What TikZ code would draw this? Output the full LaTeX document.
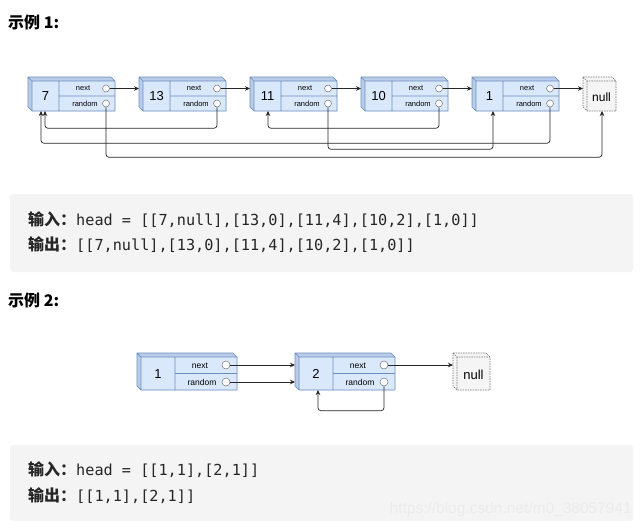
\documentclass[tikz,border=0pt]{standalone}
\usepackage{fontspec}
\setmainfont{Liberation Sans}
\setmonofont{DejaVu Sans Mono}
\newfontfamily\cjk{Noto Sans CJK SC}
\usetikzlibrary{arrows.meta,positioning}
\definecolor{cellfill}{HTML}{DAE8FC}
\definecolor{cellline}{HTML}{6C8EBF}
\definecolor{cellside}{HTML}{B9CCE8}
\definecolor{nullfill}{HTML}{F5F5F5}
\definecolor{nullline}{HTML}{777777}
\definecolor{codebg}{HTML}{F4F4F4}

\tikzset{
  cubeline/.style={draw=cellline, line width=0.7pt, line join=round},
  nullline/.style={draw=nullline, line width=0.6pt, dashed, dash pattern=on 1.5pt off 1pt},
  port/.style={circle, draw=black!55, fill=white, line width=0.5pt, minimum size=7pt, inner sep=0pt},
  cellbox/.style={inner sep=0pt, outer sep=0pt, anchor=north west},
  lbl/.style={font=\fontsize{7.5}{8}\selectfont, inner sep=0pt},
  val/.style={font=\fontsize{13}{14}\selectfont, inner sep=0pt},
  link/.style={draw=black!85, line width=0.7pt, rounded corners=3pt, -{Stealth[length=5pt,width=4.5pt]}},
  heading/.style={font=\cjk\bfseries\fontsize{16}{18}\selectfont, anchor=west, inner sep=0pt},
  codebox/.style={fill=codebg, rounded corners=3pt, anchor=north west, inner sep=0pt, outer sep=0pt},
  code/.style={font=\ttfamily\fontsize{15.2}{17}\selectfont, text=black!85, anchor=west, inner sep=0pt},
  wmark/.style={font=\fontsize{15.5}{17}\selectfont, text=black!8, anchor=east, inner sep=0pt}
}
\newcommand\cjkhead[1]{{\cjk\bfseries\fontsize{16}{18}\selectfont #1}}

\begin{document}
\begin{tikzpicture}[x=1pt,y=-1pt]
\useasboundingbox (0,0) rectangle (642,528);
\fill[white] (0,0) rectangle (642,528);

% Example 1
\node[heading] (h1) at (8,22) {示例 1:};

% list cells
\foreach \v [count=\i from 0] in {7,13,11,10,1} {
  \begin{scope}[shift={(28+111*\i,77)}]
    \fill[cellside] (0,0) -- (83,0) -- (87,4) -- (87,34) -- (4,34) -- (0,30) -- cycle;
    \fill[cellfill] (4,4) rectangle (87,34);
    \draw[cubeline] (0,0) -- (83,0) -- (87,4) -- (87,34) -- (4,34) -- (0,30) -- cycle
      (0,0) -- (4,4) -- (87,4) (4,4) -- (4,34)
      (31,4) -- (31,34) (31,19) -- (87,19);
    \node[cellbox, minimum width=87pt, minimum height=34pt] (n\i) at (0,0) {};
    \node[val] (n\i-v) at (17.5,19.5) {\v};
    \node[lbl] (n\i-a) at (55,11.5) {next};
    \node[lbl] (n\i-b) at (57,26.5) {random};
    \node[port] (n\i-nx) at (78,11.5) {};
    \node[port] (n\i-rd) at (78,26.5) {};
  \end{scope}
}
% null cell
\begin{scope}[shift={(583,77)}]
  \fill[nullfill] (0,0) -- (29,0) -- (33,4) -- (33,34) -- (4,34) -- (0,30) -- cycle;
  \draw[nullline] (0,0) -- (29,0) -- (33,4) -- (33,34) -- (4,34) -- (0,30) -- cycle
    (0,0) -- (4,4) -- (33,4) (4,4) -- (4,34);
  \node[cellbox, minimum width=33pt, minimum height=34pt] (nul) at (0,0) {};
  \node[font=\fontsize{12}{13}\selectfont, inner sep=0pt] (nul-t) at (18.5,20) {null};
\end{scope}

% next pointers
\foreach \i [evaluate=\i as \j using int(\i+1)] in {0,...,3}
  \draw[link] (n\i-nx.east) -- (n\i-nx.east -| n\j.west);
\draw[link] (n4-nx.east) -- (n4-nx.east -| nul.west);

% random pointers
\coordinate (in0a) at ([xshift=13pt]n0.south west);
\coordinate (in0b) at ([xshift=17pt]n0.south west);
\coordinate (in2) at ([xshift=18pt]n2.south west);
\coordinate (in4) at ([xshift=21pt]n4.south west);
\coordinate (nul-in) at ([xshift=19pt]nul.south west);
\draw[link] (n0-rd.south) -- ++(0,50) -| (nul-in);
\draw[link] (n1-rd.south) -- ++(0,21) -| (in0b);
\draw[link] (n2-rd.south) -- ++(0,42) -| (in4);
\draw[link] (n3-rd.south) -- ++(0,21) -| (in2);
\draw[link] (n4-rd.south) -- ++(0,36) -| (in0a);

% code 1
\node[codebox, minimum width=623pt, minimum height=78pt] (box1) at (10,194) {};
\node[code] (in-1) at (28,220) {\cjkhead{输入：}head = [[7,null],[13,0],[11,4],[10,2],[1,0]]};
\node[code] (out-1) at (28,245) {\cjkhead{输出：}[[7,null],[13,0],[11,4],[10,2],[1,0]]};

% Example 2
\node[heading] (h2) at (8,300) {示例 2:};

\foreach \v/\xa [count=\i] in {1/137,2/295} {
  \begin{scope}[shift={(\xa,353)}]
    \fill[cellside] (0,0) -- (96,0) -- (100,4) -- (100,37) -- (4,37) -- (0,33) -- cycle;
    \fill[cellfill] (4,4) rectangle (100,37);
    \draw[cubeline] (0,0) -- (96,0) -- (100,4) -- (100,37) -- (4,37) -- (0,33) -- cycle
      (0,0) -- (4,4) -- (100,4) (4,4) -- (4,37)
      (38,4) -- (38,37) (38,20.5) -- (100,20.5);
    \node[cellbox, minimum width=100pt, minimum height=37pt] (m\i) at (0,0) {};
    \node[val] (m\i-v) at (21,21) {\v};
    \node[lbl, font=\fontsize{8.5}{9}\selectfont] (m\i-a) at (63,12.5) {next};
    \node[lbl, font=\fontsize{8.5}{9}\selectfont] (m\i-b) at (65,29) {random};
    \node[port, minimum size=8pt] (m\i-nx) at (89,12) {};
    \node[port, minimum size=8pt] (m\i-rd) at (89,29) {};
  \end{scope}
}
\begin{scope}[shift={(453,353)}]
  \fill[nullfill] (0,0) -- (33,0) -- (37,4) -- (37,37) -- (4,37) -- (0,33) -- cycle;
  \draw[nullline] (0,0) -- (33,0) -- (37,4) -- (37,37) -- (4,37) -- (0,33) -- cycle
    (0,0) -- (4,4) -- (37,4) (4,4) -- (4,37);
  \node[cellbox, minimum width=37pt, minimum height=37pt] (nul2) at (0,0) {};
  \node[font=\fontsize{13}{14}\selectfont, inner sep=0pt] (nul2-t) at (20.5,21.5) {null};
\end{scope}

\coordinate (m2-in) at ([xshift=23pt]m2.south west);
\draw[link] (m1-nx.east) -- (m1-nx.east -| m2.west);
\draw[link] (m1-rd.east) -- (m1-rd.east -| m2.west);
\draw[link] (m2-nx.east) -- (m2-nx.east -| nul2.west);
\draw[link] (m2-rd.south) -- ++(0,24.5) -| (m2-in);

% code 2
\node[codebox, minimum width=623pt, minimum height=76pt] (box2) at (10,445) {};
\node[code] (in-2) at (28,470) {\cjkhead{输入：}head = [[1,1],[2,1]]};
\node[code] (out-2) at (28,496) {\cjkhead{输出：}[[1,1],[2,1]]};
\node[wmark] (wm) at (632,509) {https://blog.csdn.net/m0\_38057941};
\end{tikzpicture}
\end{document}
